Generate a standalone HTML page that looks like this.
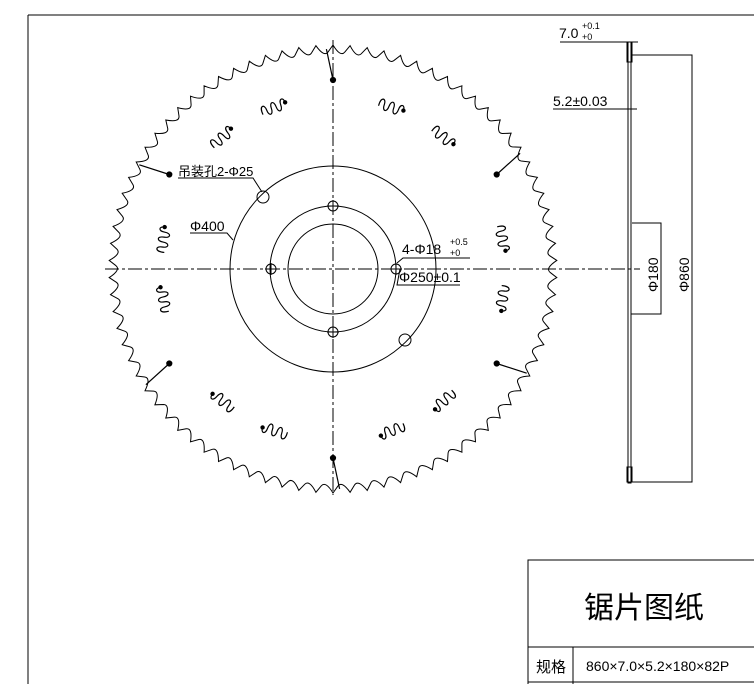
<!DOCTYPE html>
<html><head><meta charset="utf-8"><style>
html,body{margin:0;padding:0;background:#fff;width:754px;height:684px;overflow:hidden}
svg{display:block}
text{font-family:"Liberation Sans","Noto Sans CJK SC",sans-serif;fill:#000}
</style></head><body>
<svg id="s" width="754" height="684" viewBox="0 0 754 684" xmlns="http://www.w3.org/2000/svg">
<g stroke="#000" fill="none" stroke-width="1">
<line x1="28" y1="15" x2="754" y2="15"/>
<line x1="28" y1="15" x2="28" y2="684"/>
<line x1="105" y1="269" x2="640" y2="269" stroke-dasharray="14,3,3,3"/>
<line x1="333" y1="40" x2="333" y2="495" stroke-dasharray="14,3,3,3"/>
<circle cx="333" cy="269" r="103"/>
<circle cx="333" cy="269" r="63"/>
<circle cx="333" cy="269" r="45"/>
<circle cx="263" cy="197" r="6"/>
<circle cx="405" cy="340" r="6"/>
<g id="holes"></g>
<path id="teeth" stroke-width="1"/>
<g id="slots" stroke-width="1.2"></g>
<polyline points="178,178 253,178 262,192"/>
<polyline points="190,233 227,233 233,240"/>
<polyline points="397,263 403,258 470,258"/>
<polyline points="400,269 397,285 460,285"/>
<rect x="628" y="42" width="3" height="441"/>
<rect x="627" y="42" width="5" height="20"/>
<rect x="627" y="467" width="5" height="15"/>
<line x1="560" y1="42" x2="638" y2="42"/>
<line x1="553" y1="109" x2="637" y2="109"/>
<polyline points="632,55 692,55 692,482 627,482"/>
<polyline points="632,223 661,223 661,314 631,314"/>
<polyline points="754,560 528,560 528,684"/>
<line x1="528" y1="647" x2="754" y2="647"/>
<line x1="528" y1="682" x2="754" y2="682"/>
<line x1="573" y1="647" x2="573" y2="684"/>
</g>
<text x="559" y="38" font-size="14">7.0</text><text x="582" y="29" font-size="9">+0.1</text><text x="582" y="40" font-size="9">+0</text>
<text x="553" y="106" font-size="14">5.2±0.03</text>
<text transform="translate(658,292) rotate(-90)" font-size="14">Φ180</text>
<text transform="translate(689,292) rotate(-90)" font-size="14">Φ860</text>
<text x="178" y="176" font-size="13">吊装孔2-Φ25</text>
<text x="190" y="231" font-size="14">Φ400</text>
<text x="402" y="254" font-size="14">4-Φ18</text><text x="450" y="245" font-size="9">+0.5</text><text x="450" y="256" font-size="9">+0</text>
<text x="399" y="282" font-size="14">Φ250±0.1</text>
<text x="584" y="618" font-size="30">锯片图纸</text>
<text x="536" y="672" font-size="15">规格</text>
<text x="586" y="671" font-size="14">860×7.0×5.2×180×82P</text>
</svg>
<script>
var cx=333,cy=269,N=82,R=224,r=215,d='';
function p(a,rr){return [(cx+rr*Math.sin(a)).toFixed(1),(cy-rr*Math.cos(a)).toFixed(1)];}
for(var i=0;i<N;i++){
 var a0=2*Math.PI*i/N, a1=a0+2*Math.PI*0.7/N, a2=a0+2*Math.PI/N;
 var P0=p(a0,R),P1=p(a1,r+2),P2=p(a2,R),C=p(a0+2*Math.PI*0.45/N,r-3);
 d+=(i==0?'M'+P0:'')+' Q'+C+' '+P1+' L'+P2;
}
document.getElementById('teeth').setAttribute('d',d+'Z');
var h='';
[[271,269],[396,269],[333,206],[333,332]].forEach(function(q){h+='<circle cx="'+q[0]+'" cy="'+q[1]+'" r="5"/><line x1="'+(q[0]-6)+'" y1="'+q[1]+'" x2="'+(q[0]+6)+'" y2="'+q[1]+'"/><line x1="'+q[0]+'" y1="'+(q[1]-6)+'" x2="'+q[0]+'" y2="'+(q[1]+6)+'"/>';});
document.getElementById('holes').innerHTML=h;
var s='';
for(var k=0;k<6;k++){var a=k*Math.PI/3;
 var A=p(a-0.03,R-4),B=p(a,189);
 s+='<line x1="'+A[0]+'" y1="'+A[1]+'" x2="'+B[0]+'" y2="'+B[1]+'"/><circle cx="'+B[0]+'" cy="'+B[1]+'" r="2.5" fill="#000"/>';}
for(var k=0;k<6;k++){[20,40].forEach(function(o){
 var a=(k*60+o)*Math.PI/180, rr=172, x=cx+rr*Math.sin(a), y=cy-rr*Math.cos(a);
 var deg=a*180/Math.PI;
 var tr='translate('+x.toFixed(1)+','+y.toFixed(1)+') rotate('+deg.toFixed(1)+')';
 s+='<path transform="'+tr+'" d="M-13,3 C-14,-7 -8,-7 -8,0 C-8,7 -3,7 -3,0 C-3,-7 2,-7 2,0 C2,7 7,7 7,0 C7,-7 12,-7 12,-1"/><circle transform="'+tr+'" cx="12" cy="-1" r="1.6" fill="#000"/>';
});}
document.getElementById('slots').innerHTML=s;
</script>
</body></html>
